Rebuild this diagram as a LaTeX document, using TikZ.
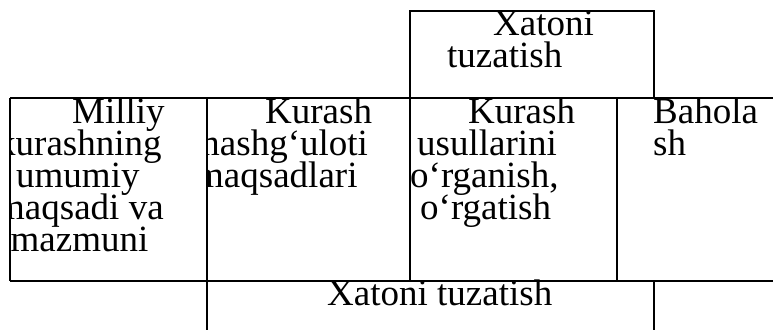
\documentclass[tikz,border=0pt]{standalone}
\usepackage{fontspec}
\setmainfont{Liberation Serif}

\tikzset{
  tabline/.style={line width=2pt, black},
  celltext/.style={anchor=base west, inner sep=0pt, font=\fontsize{37}{32}\selectfont},
}

\begin{document}
\begin{tikzpicture}[x=1pt,y=-1pt]
        \useasboundingbox (0,0) rectangle (773,330);

        % Yuqori katak
        \node[celltext] (xatoniA) at (493,35) {Xatoni};
        \node[celltext] (tuzatishA) at (447,67) {tuzatish};

        % Birinchi katak
        \begin{scope}
          \clip (10,98) rectangle (207,281);
          \node[celltext] (milliy) at (72,123) {Milliy};
          \node[celltext] (kurashning) at (-3,155) {kurashning};
          \node[celltext] (umumiy) at (16,187) {umumiy};
          \node[celltext] (maqsadi) at (-4,219) {maqsadi va};
          \node[celltext] (mazmuni) at (10.5,251) {mazmuni};
        \end{scope}

        % Ikkinchi katak
        \begin{scope}
          \clip (207,98) rectangle (409.5,281);
          \node[celltext] (kurashB) at (265,123) {Kurash};
          \node[celltext] (mashgulot) at (191,155) {mashg‘uloti};
          \node[celltext] (maqsadlari) at (195,187) {maqsadlari};
        \end{scope}

        % Uchinchi katak
        \begin{scope}
          \clip (409.5,98) rectangle (617,281);
          \node[celltext] (kurashC) at (468,123) {Kurash};
          \node[celltext] (usullar) at (417,155) {usullarini};
          \node[celltext] (organish) at (410,187) {o‘rganish,};
          \node[celltext] (orgatish) at (420,219) {o‘rgatish};
        \end{scope}

        % To'rtinchi katak
        \node[celltext] (bahola) at (653,123) {Bahola};
        \node[celltext] (baholash) at (653,155) {sh};

        % Pastki qator
        \node[celltext] (xatoniB) at (327,305) {Xatoni tuzatish};

        % Jadval chiziqlari
        \draw[tabline] (409.5,98) -- (409.5,11) -- (654,11) -- (654,98);
        \draw[tabline] (10,98) -- (773,98);
        \draw[tabline] (10,281) -- (773,281);
        \draw[tabline] (10,98) -- (10,281);
        \draw[tabline] (207,98) -- (207,330);
        \draw[tabline] (409.5,98) -- (409.5,281);
        \draw[tabline] (617,98) -- (617,281);
        \draw[tabline] (654,281) -- (654,330);
    \end{tikzpicture}
\end{document}
